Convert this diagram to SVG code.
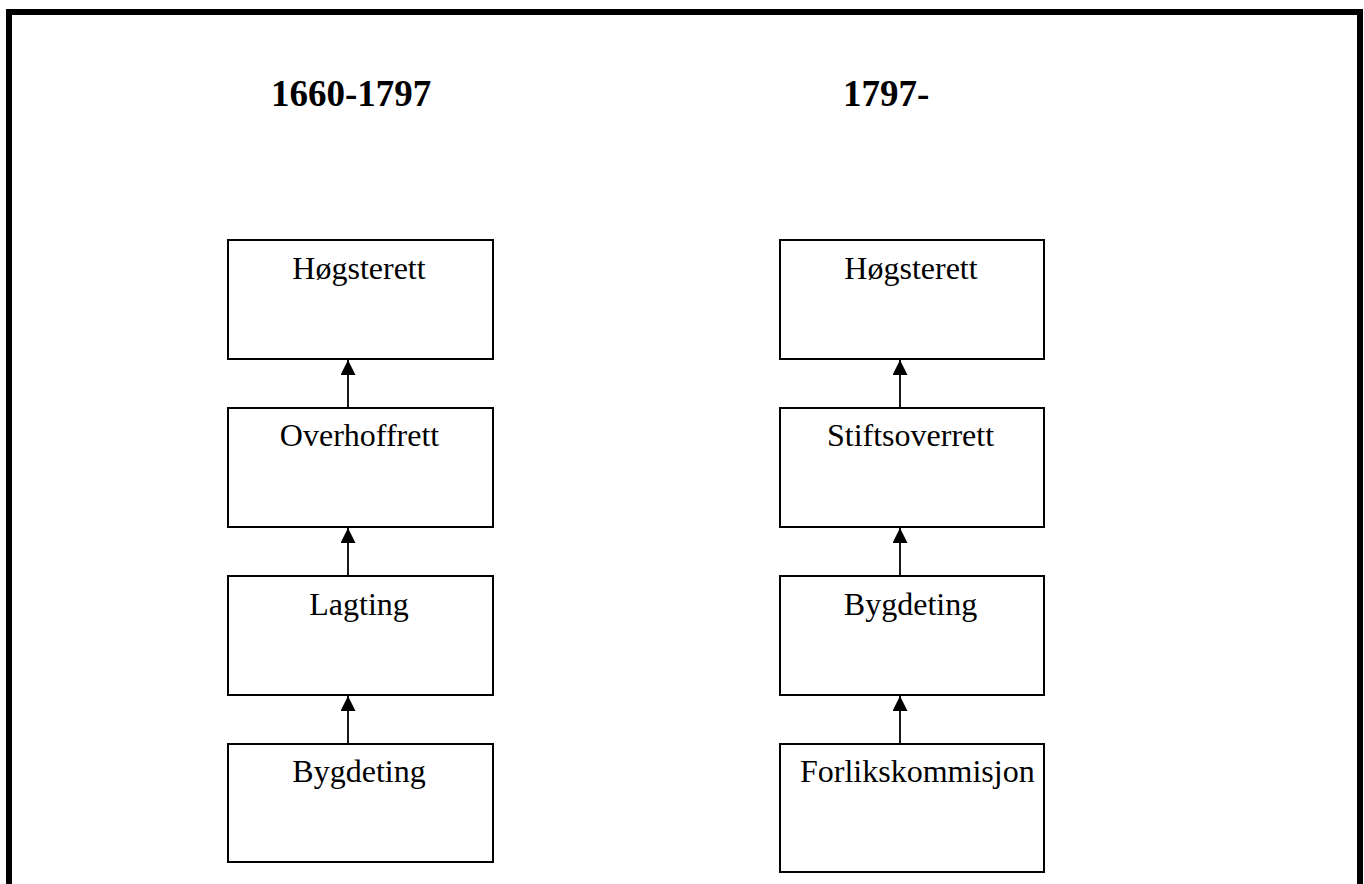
<svg xmlns="http://www.w3.org/2000/svg" width="1364" height="884" viewBox="0 0 1364 884">
<style>
.frame{fill:none;stroke:#000;stroke-width:6}
.box{fill:#fff;stroke:#000;stroke-width:2}
.lbl{font-family:"Liberation Serif","Times New Roman",serif;font-size:32px;fill:#000}
.ttl{font-family:"Liberation Serif","Times New Roman",serif;font-size:37px;font-weight:bold;fill:#000}
.conn{stroke:#000;stroke-width:1.8;fill:none}
</style>
<defs>
<marker id="ah" markerUnits="userSpaceOnUse" markerWidth="16" markerHeight="16" refX="15" refY="7.5" orient="auto">
<path d="M0,0 L15,7.5 L0,15 Z" fill="#000"/>
</marker>
</defs>
<rect width="1364" height="884" fill="#fff"/>
<rect class="frame" x="9" y="12" width="1351" height="900"/>
<text class="ttl" x="271" y="106">1660-1797</text>
<text class="ttl" x="843" y="106">1797-</text>
<g id="connectors">
<line class="conn" x1="348" y1="407" x2="348" y2="360" marker-end="url(#ah)"/>
<line class="conn" x1="348" y1="575" x2="348" y2="528" marker-end="url(#ah)"/>
<line class="conn" x1="348" y1="743" x2="348" y2="696" marker-end="url(#ah)"/>
<line class="conn" x1="900" y1="407" x2="900" y2="360" marker-end="url(#ah)"/>
<line class="conn" x1="900" y1="575" x2="900" y2="528" marker-end="url(#ah)"/>
<line class="conn" x1="900" y1="743" x2="900" y2="696" marker-end="url(#ah)"/>
</g>
<g id="l-hogsterett"><rect class="box" x="228" y="240" width="265" height="119"/><text class="lbl" x="359" y="279" text-anchor="middle">Høgsterett</text></g>
<g id="l-overhoffrett"><rect class="box" x="228" y="408" width="265" height="119"/><text class="lbl" x="359.5" y="446" text-anchor="middle">Overhoffrett</text></g>
<g id="l-lagting"><rect class="box" x="228" y="576" width="265" height="119"/><text class="lbl" x="359" y="615" text-anchor="middle">Lagting</text></g>
<g id="l-bygdeting"><rect class="box" x="228" y="744" width="265" height="118"/><text class="lbl" x="359" y="782" text-anchor="middle">Bygdeting</text></g>
<g id="r-hogsterett"><rect class="box" x="780" y="240" width="264" height="119"/><text class="lbl" x="911" y="279" text-anchor="middle">Høgsterett</text></g>
<g id="r-stiftsoverrett"><rect class="box" x="780" y="408" width="264" height="119"/><text class="lbl" x="910.5" y="446" text-anchor="middle">Stiftsoverrett</text></g>
<g id="r-bygdeting"><rect class="box" x="780" y="576" width="264" height="119"/><text class="lbl" x="910.5" y="615" text-anchor="middle">Bygdeting</text></g>
<g id="r-forlikskommisjon"><rect class="box" x="780" y="744" width="264" height="128"/><text class="lbl" x="800" y="782">Forlikskommisjon</text></g>
</svg>
